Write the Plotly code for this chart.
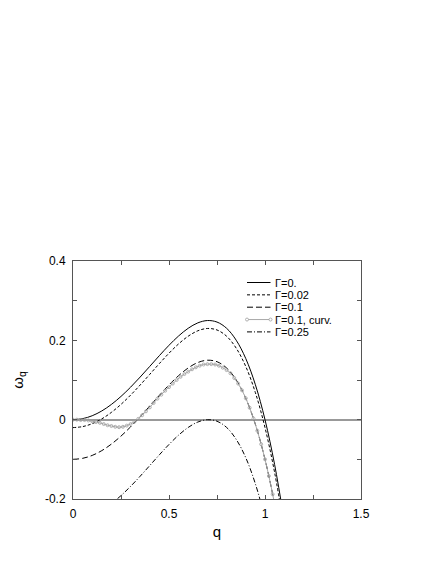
import plotly.graph_objects as go

# ---- data ----
q_main = [0.0, 0.05, 0.1, 0.15, 0.2, 0.25, 0.3, 0.35, 0.4, 0.45, 0.5, 0.55,
          0.6, 0.65, 0.7, 0.75, 0.8, 0.85, 0.9, 0.95, 1.0, 1.05, 1.1]
w_gamma_0 = [0.0, 0.0025, 0.0099, 0.022, 0.0384, 0.0586, 0.0819, 0.1075, 0.1344,
             0.1615, 0.1875, 0.211, 0.2304, 0.244, 0.2499, 0.2461, 0.2304, 0.2003,
             0.1539, 0.088, 0.0, -0.113, -0.2541]
w_gamma_002 = [-0.02, -0.0175, -0.0101, 0.002, 0.0184, 0.0386, 0.0619, 0.0875, 0.1144,
               0.1415, 0.1675, 0.191, 0.2104, 0.224, 0.2299, 0.2261, 0.2104, 0.1803,
               0.1339, 0.068, -0.02, -0.133, -0.2741]
w_gamma_01 = [-0.1, -0.0975, -0.0901, -0.078, -0.0616, -0.0414, -0.0181, 0.0075, 0.0344,
              0.0615, 0.0875, 0.111, 0.1304, 0.144, 0.1499, 0.1461, 0.1304, 0.1003,
              0.0539, -0.012, -0.1, -0.213, -0.3541]
w_gamma_025 = [-0.25, -0.2475, -0.2401, -0.228, -0.2116, -0.1914, -0.1681, -0.1425, -0.1156,
               -0.0885, -0.0625, -0.039, -0.0196, -0.006, -0.0001, -0.0039, -0.0196, -0.0497,
               -0.0961, -0.162, -0.25, -0.363, -0.5041]

q_curv = [0.0, 0.02, 0.04, 0.06, 0.08, 0.1, 0.12, 0.14, 0.16, 0.18, 0.2, 0.22, 0.24,
          0.26, 0.28, 0.3, 0.32, 0.34, 0.36, 0.38, 0.4, 0.42, 0.44, 0.46, 0.48, 0.5,
          0.52, 0.54, 0.56, 0.58, 0.6, 0.62, 0.64, 0.66, 0.68, 0.7, 0.72, 0.74, 0.76,
          0.78, 0.8, 0.82, 0.84, 0.86, 0.88, 0.9, 0.92, 0.94, 0.96, 0.98, 1.0, 1.02,
          1.04, 1.06]
w_gamma_01_curv = [0.0, 0.0, -0.001, -0.001, -0.002, -0.004, -0.006, -0.008, -0.011, -0.014,
                   -0.016, -0.018, -0.019, -0.018, -0.015, -0.011, -0.005, 0.002, 0.011,
                   0.021, 0.031, 0.042, 0.053, 0.063, 0.073, 0.082, 0.091, 0.1, 0.108,
                   0.115, 0.121, 0.127, 0.132, 0.136, 0.139, 0.14, 0.14, 0.139, 0.136,
                   0.131, 0.125, 0.117, 0.105, 0.091, 0.074, 0.054, 0.03, 0.003, -0.028,
                   -0.062, -0.1, -0.142, -0.188, -0.239]

legend_labels = ["\u0393=0.", "\u0393=0.02", "\u0393=0.1", "\u0393=0.1, curv.", "\u0393=0.25"]

x_tick_vals = [0, 0.5, 1.0, 1.5]
x_tick_text = ["0", "0.5", "1", "1.5"]
x_minor_vals = [0.25, 0.75, 1.25]
y_tick_vals = [-0.2, 0.0, 0.2, 0.4]
y_tick_text = ["-0.2", "0", "0.2", "0.4"]
y_minor_vals = [-0.1, 0.1, 0.3]

# ---- styles ----
DASHES = ["solid", "3px,2px", "6px,3px", "solid", "5px,2px,1px,2px"]
COLORS = ["#000000", "#000000", "#000000", "#a8a8a8", "#000000"]
MARKER_COLOR = "#a0a0a0"
FONT = "Liberation Sans, Arial, sans-serif"

fig = go.Figure()
series = [(q_main, w_gamma_0), (q_main, w_gamma_002), (q_main, w_gamma_01),
          (q_curv, w_gamma_01_curv), (q_main, w_gamma_025)]
for i, (xs, ys) in enumerate(series):
    is_curv = i == 3
    fig.add_trace(go.Scatter(
        x=xs, y=ys, name=legend_labels[i],
        mode="lines+markers" if is_curv else "lines",
        line=dict(color=COLORS[i], width=1, dash=DASHES[i], shape="spline"),
        marker=dict(symbol="circle-open", size=3, color=MARKER_COLOR,
                    line=dict(width=0.8, color=MARKER_COLOR)) if is_curv else None,
        showlegend=False,
    ))

# page has an 8px body margin; figure is sized so the plot box lands where the original's does
OFF = 8
FIG_W, FIG_H = 436 - OFF, 564 - OFF
L, R, T, B = 73 - OFF, 361 - OFF, 261 - OFF, 499 - OFF
W, H = R - L, B - T
def px_x(p):
    return (p - OFF - L) / W
def px_y(p):
    return (B - (p - OFF)) / H

shapes = []
annotations = []
row0, row_gap = 282.5, 12.35
for i, lab in enumerate(legend_labels):
    yc = px_y(row0 + i * row_gap)
    shapes.append(dict(type="line", xref="paper", yref="paper",
                       x0=px_x(247), x1=px_x(270.5), y0=yc, y1=yc,
                       line=dict(color=COLORS[i], width=1, dash=DASHES[i])))
    if i == 3:
        for xe in (247, 270.5):
            shapes.append(dict(type="circle", xref="paper", yref="paper",
                               xsizemode="pixel", ysizemode="pixel",
                               xanchor=px_x(xe), yanchor=yc,
                               x0=-1.5, x1=1.5, y0=-1.5, y1=1.5,
                               fillcolor="white",
                               line=dict(color=MARKER_COLOR, width=0.8)))
    annotations.append(dict(xref="paper", yref="paper", x=px_x(273), y=yc,
                            text=lab, showarrow=False, xanchor="left", yanchor="middle",
                            font=dict(family=FONT, size=11, color="black")))

axis_common = dict(showline=True, mirror="ticks", linecolor="#555555", linewidth=1,
                   ticks="inside", ticklen=4, tickcolor="#555555", tickwidth=1,
                   showgrid=False, tickfont=dict(family=FONT, size=12, color="black"))

fig.update_layout(
    width=FIG_W, height=FIG_H,
    margin=dict(l=L, r=FIG_W - R, t=T, b=FIG_H - B),
    paper_bgcolor="white", plot_bgcolor="white",
    font=dict(family=FONT, color="black"),
    shapes=shapes, annotations=annotations,
    xaxis=dict(range=[0, 1.5], tickvals=x_tick_vals, ticktext=x_tick_text,
               minor=dict(tickvals=x_minor_vals, ticks="inside", ticklen=4,
                          tickcolor="#555555", showgrid=False),
               title=dict(text="q", font=dict(family=FONT, size=15), standoff=6),
               zeroline=False, ticklabelstandoff=4, automargin=False, **axis_common),
    yaxis=dict(range=[-0.2, 0.4], tickvals=y_tick_vals, ticktext=y_tick_text,
               minor=dict(tickvals=y_minor_vals, ticks="inside", ticklen=4,
                          tickcolor="#555555", showgrid=False),
               title=dict(text="\u03c9<sub>q</sub>", font=dict(family=FONT, size=15), standoff=17),
               zeroline=True, zerolinecolor="#999999", zerolinewidth=2,
               ticklabelstandoff=4, automargin=False, **axis_common),
)

fig.write_html("out.html")
